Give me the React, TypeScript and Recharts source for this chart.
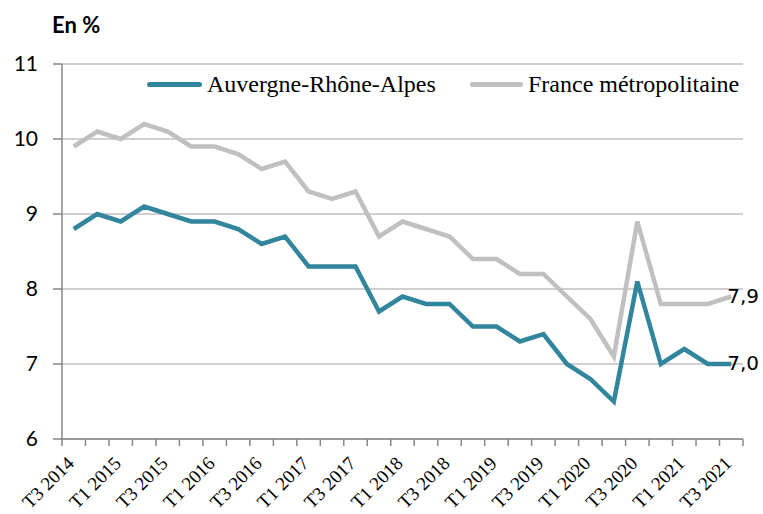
import React from "react";
import {
  LineChart,
  Line,
  XAxis,
  YAxis,
  CartesianGrid,
  LabelList,
} from "recharts";

const quarters = [
  "T3 2014", "T4 2014",
  "T1 2015", "T2 2015", "T3 2015", "T4 2015",
  "T1 2016", "T2 2016", "T3 2016", "T4 2016",
  "T1 2017", "T2 2017", "T3 2017", "T4 2017",
  "T1 2018", "T2 2018", "T3 2018", "T4 2018",
  "T1 2019", "T2 2019", "T3 2019", "T4 2019",
  "T1 2020", "T2 2020", "T3 2020", "T4 2020",
  "T1 2021", "T2 2021", "T3 2021",
];

const ara = [
  8.8, 9.0, 8.9, 9.1, 9.0, 8.9, 8.9, 8.8, 8.6, 8.7, 8.3, 8.3, 8.3, 7.7, 7.9,
  7.8, 7.8, 7.5, 7.5, 7.3, 7.4, 7.0, 6.8, 6.5, 8.1, 7.0, 7.2, 7.0, 7.0,
];

const france = [
  9.9, 10.1, 10.0, 10.2, 10.1, 9.9, 9.9, 9.8, 9.6, 9.7, 9.3, 9.2, 9.3, 8.7, 8.9,
  8.8, 8.7, 8.4, 8.4, 8.2, 8.2, 7.9, 7.6, 7.1, 8.9, 7.8, 7.8, 7.8, 7.9,
];

const yTicks = [6, 7, 8, 9, 10, 11];

const seriesNames = ["Auvergne-Rhône-Alpes", "France métropolitaine"];

const BLUE = "#31859C";
const GREY = "#C0C0C0";
const AXIS = "#868686";
const SANS = "Lato, 'Open Sans', sans-serif";
const SERIF = "'Liberation Serif', 'Times New Roman', serif";

const data = quarters.map((q, i) => ({ q, ara: ara[i], france: france[i] }));

const XTick = (props: any) => {
  const { x, y, index, payload, width } = props;
  const half = payload?.offset || width / (2 * quarters.length);
  const last = index === quarters.length - 1;
  return (
    <g transform={`translate(${x},${y})`}>
      <line x1={-half} x2={-half} y1={0} y2={7} stroke={AXIS} strokeWidth={1.5} />
      {last && <line x1={half} x2={half} y1={0} y2={7} stroke={AXIS} strokeWidth={1.5} />}
      {index % 2 === 0 && (
        <text
          x={0}
          y={0}
          dx={-17}
          dy={19}
          textAnchor="end"
          transform="rotate(-45)"
          fontFamily={SERIF}
          fontSize={19}
          fill="#000"
        >
          {payload.value}
        </text>
      )}
    </g>
  );
};

const EndLabel = (props: any) => {
  const { x, y, index, value } = props;
  if (index !== quarters.length - 1) return null;
  return (
    <text x={x - 4} y={y} dy={6} fontFamily="'DejaVu Sans', sans-serif" fontSize={20} fill="#000">
      {value.toFixed(1).replace(".", ",")}
    </text>
  );
};

export default function App() {
  return (
    <div style={{ position: "absolute", left: 0, top: 0, width: 763, height: 514, background: "#fff" }}>
      <div
        style={{
          position: "absolute",
          left: 52,
          top: 11,
          fontFamily: SANS,
          fontWeight: 700,
          fontSize: 22,
          color: "#000",
        }}
      >
        En %
      </div>
      <LineChart
        width={763}
        height={514}
        data={data}
        margin={{ top: 64, right: 20, bottom: 5, left: 12 }}
      >
        <CartesianGrid horizontal vertical={false} stroke="#BFBFBF" strokeWidth={1.5} />
        <XAxis
          dataKey="q"
          scale="band"
          interval={0}
          height={70}
          axisLine={{ stroke: AXIS, strokeWidth: 1.5 }}
          tickLine={false}
          tickSize={0}
          tickMargin={0}
          tick={<XTick />}
        />
        <YAxis
          domain={[6, 11]}
          ticks={yTicks}
          width={50}
          axisLine={{ stroke: AXIS, strokeWidth: 1.5 }}
          tickLine={{ stroke: AXIS, strokeWidth: 1.5 }}
          tickSize={9}
          tickMargin={15}
          tick={{ fontFamily: SANS, fontSize: 21, fill: "#000" }}
        />
        <Line
          dataKey="france"
          name={seriesNames[1]}
          stroke={GREY}
          strokeWidth={4.5}
          dot={false}
          isAnimationActive={false}
        >
          <LabelList dataKey="france" content={<EndLabel />} />
        </Line>
        <Line
          dataKey="ara"
          name={seriesNames[0]}
          stroke={BLUE}
          strokeWidth={4.5}
          dot={false}
          isAnimationActive={false}
        >
          <LabelList dataKey="ara" content={<EndLabel />} />
        </Line>
      </LineChart>
      <div style={{ position: "absolute", left: 0, top: 70, width: 763, height: 30, fontFamily: SERIF, fontSize: 24, color: "#000" }}>
        <span style={{ position: "absolute", left: 147, top: 12, width: 55, height: 5, borderRadius: 3, background: BLUE }} />
        <span style={{ position: "absolute", left: 207, top: 0, lineHeight: "28px", whiteSpace: "nowrap" }}>{seriesNames[0]}</span>
        <span style={{ position: "absolute", left: 470, top: 12, width: 53, height: 5, borderRadius: 3, background: GREY }} />
        <span style={{ position: "absolute", left: 528, top: 0, lineHeight: "28px", whiteSpace: "nowrap" }}>{seriesNames[1]}</span>
      </div>
    </div>
  );
}
